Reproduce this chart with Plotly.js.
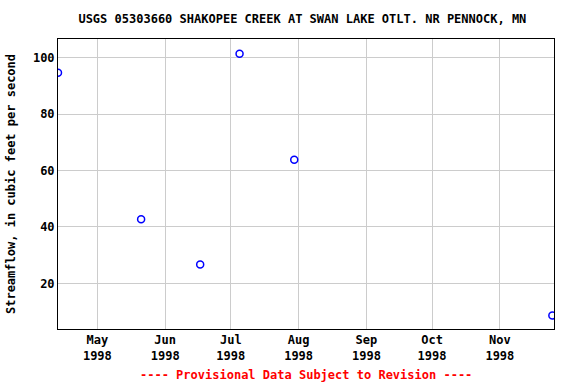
<!DOCTYPE html>
<html>
<head>
<meta charset="utf-8">
<script src="https://cdn.plot.ly/plotly-3.0.1.min.js"></script>
<style>html,body{margin:0;padding:0;background:#fff}#chart{width:576px;height:384px}</style>
</head>
<body>
<div id="chart"></div>
<script>
const dates = ["1998-04-13", "1998-05-21", "1998-06-17", "1998-07-05", "1998-07-30", "1998-11-25"];
const flows = [94.6, 42.7, 26.7, 101.4, 63.8, 8.6];
const tickDates = ["1998-05-01", "1998-06-01", "1998-07-01", "1998-08-01", "1998-09-01", "1998-10-01", "1998-11-01"];
const tickLabels = ["<b>May</b><br><b>1998</b>", "<b>Jun</b><br><b>1998</b>", "<b>Jul</b><br><b>1998</b>", "<b>Aug</b><br><b>1998</b>", "<b>Sep</b><br><b>1998</b>", "<b>Oct</b><br><b>1998</b>", "<b>Nov</b><br><b>1998</b>"];

const fontFam = "DejaVu Sans Mono, monospace";

Plotly.newPlot("chart", [{
  x: dates,
  y: flows,
  type: "scatter",
  mode: "markers",
  marker: {symbol: "circle-open", size: 7, color: "#0000ff", line: {width: 1.5, color: "#0000ff"}},
  hoverinfo: "x+y"
}], {
  width: 576,
  height: 384,
  margin: {l: 58, r: 22, t: 39, b: 55},
  paper_bgcolor: "#fff",
  plot_bgcolor: "#fff",
  showlegend: false,
  title: {text: "<b>USGS 05303660 SHAKOPEE CREEK AT SWAN LAKE OTLT. NR PENNOCK, MN</b>", font: {family: fontFam, size: 12, color: "#000"}, x: 0.525, xanchor: "center", y: 0.95, yanchor: "middle"},
  xaxis: {
    type: "date",
    range: ["1998-04-13", "1998-11-25 18:00"],
    tickmode: "array",
    tickvals: tickDates,
    ticktext: tickLabels,
    tickfont: {family: fontFam, size: 12, color: "#000"},
    showgrid: true,
    gridcolor: "#cccccc",
    gridwidth: 1,
    showline: true,
    linecolor: "#000",
    linewidth: 1,
    mirror: true,
    ticks: "",
    zeroline: false
  },
  yaxis: {
    range: [3.8, 106.6],
    tickmode: "array",
    tickvals: [20, 40, 60, 80, 100],
    ticktext: ["<b>20</b>", "<b>40</b>", "<b>60</b>", "<b>80</b>", "<b>100</b>"],
    tickfont: {family: fontFam, size: 12, color: "#000"},
    showgrid: true,
    gridcolor: "#cccccc",
    gridwidth: 1,
    showline: true,
    linecolor: "#000",
    linewidth: 1,
    mirror: true,
    ticks: "",
    ticklen: 0,
    zeroline: false,
    title: {text: "<b>Streamflow, in cubic feet per second</b>", font: {family: fontFam, size: 12, color: "#000"}, standoff: 14}
  },
  annotations: [{
    text: "<b>---- Provisional Data Subject to Revision ----</b>",
    xref: "paper", yref: "paper",
    x: 0.5, xanchor: "center",
    y: -0.158, yanchor: "middle",
    showarrow: false,
    font: {family: fontFam, size: 12, color: "#ff0000"}
  }]
}, {displayModeBar: false, staticPlot: true});
</script>
</body>
</html>
